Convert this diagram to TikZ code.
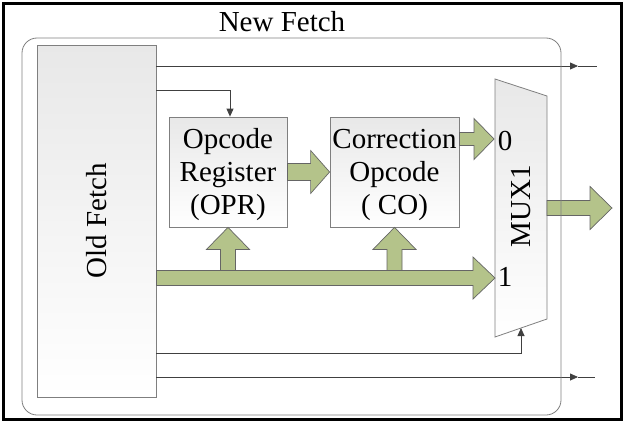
\documentclass[tikz,border=0pt]{standalone}
\usepackage{fontspec}
\setmainfont{Liberation Serif}
\newfontfamily\labelfont{Liberation Serif}
\usetikzlibrary{arrows.meta,calc}

\definecolor{fatgreen}{HTML}{B4C38A}
\definecolor{fatedge}{HTML}{656565}
\definecolor{wire}{HTML}{404040}
\definecolor{boxedge}{HTML}{7F7F7F}

% horizontal block arrow: start, tip, body half-height, head half-height, head length
\newcommand{\fatH}[5]{%
  \draw[fatarrow] let \p1=(#1), \p2=(#2) in
    (\x1,\y2+#3) -- (\x2-#5,\y2+#3) -- (\x2-#5,\y2+#4) -- (\x2,\y2)
    -- (\x2-#5,\y2-#4) -- (\x2-#5,\y2-#3) -- (\x1,\y2-#3) -- cycle;}
% upward block arrow: start, tip, body half-width, head half-width, head length
\newcommand{\fatV}[5]{%
  \draw[fatarrow] let \p1=(#1), \p2=(#2) in
    (\x2-#3,\y1) -- (\x2-#3,\y2-#5) -- (\x2-#4,\y2-#5) -- (\x2,\y2)
    -- (\x2+#4,\y2-#5) -- (\x2+#3,\y2-#5) -- (\x2+#3,\y1) -- cycle;}

\begin{document}
\begin{tikzpicture}[x=1pt,y=-1pt,
  lbl/.style={font=\labelfont\fontsize{29}{33}\selectfont, align=center, inner sep=0pt},
  block/.style={draw=boxedge, line width=0.8pt, top color=black!9, bottom color=white, inner sep=0pt},
  wireline/.style={draw=wire, line width=0.8pt},
  wiretip/.style={-{Triangle[length=8pt,width=7pt]}},
  fatarrow/.style={draw=fatedge, fill=fatgreen, line width=0.7pt, line join=miter},
  frame/.style={draw=boxedge, line width=0.8pt, rounded corners=15pt},
]
\useasboundingbox (0,0) rectangle (626,423);
\draw[black, line width=2.6pt] (3.3,3.3) rectangle (621.5,419.7);

% blocks
\node[block, minimum width=119pt, minimum height=352pt] (old) at (96.5,221) {};
\node[lbl, rotate=90] (oldlbl) at (old.center) {Old Fetch};
\node[block, minimum width=118pt, minimum height=110pt] (opr) at (228,172) {};
\node[lbl] (oprlbl) at ([yshift=-3pt]opr.center) {Opcode\\Register\\(OPR)};
\node[block, minimum width=129pt, minimum height=110pt] (co) at (394.5,172) {};
\node[lbl] (colbl) at ([yshift=-3pt]co.center) {Correction\\Opcode\\( CO)};

% multiplexer
\coordinate (mA) at (495,79);
\coordinate (mB) at (547,96);
\coordinate (mC) at (547,319);
\coordinate (mD) at (495,337);
\path[block] (mA) -- (mB) -- (mC) -- (mD) -- cycle;
\node[lbl, rotate=90] (mux) at (521,206) {MUX1};
\node[lbl] (in0) at (505,141) {0};
\node[lbl] (in1) at (505,277) {1};
\coordinate (sel) at ($(mD)!0.5!(mC)$);
\coordinate (in0tip) at (494,139);
\coordinate (in1tip) at (495,278);
\coordinate (muxout) at (547,208);
\coordinate (outtip) at (612,208);

% thin wires
\coordinate (t1) at (578,66);
\coordinate (e1) at (597,66);
\draw[wireline, wiretip] (old.east |- t1) -- (t1);
\draw[wireline] (t1) -- (e1);
\coordinate (k2) at (230,90);
\draw[wireline, wiretip] (old.east |- k2) -- (k2) -- (k2 |- opr.north);
\coordinate (k3) at (sel |- 0,353);
\draw[wireline, wiretip] (old.east |- k3) -- (k3) -- (sel);
\coordinate (t4) at (578,377);
\coordinate (e4) at (595,377);
\draw[wireline, wiretip] (old.east |- t4) -- (t4);
\draw[wireline] (t4) -- (e4);

% block arrows
\coordinate (busL) at (old.east |- in1tip);
\coordinate (v1) at (opr.south |- in1tip);
\coordinate (v2) at (co.south |- in1tip);
\fatV{v1}{opr.south}{7.5pt}{21.5pt}{22pt}
\fatV{v2}{co.south}{7.5pt}{21.5pt}{22pt}
\fatH{busL}{in1tip}{7.5pt}{21pt}{22pt}
\fatH{opr.east}{co.west}{8.5pt}{21.5pt}{19pt}
\coordinate (cout) at (co.east |- in0tip);
\fatH{cout}{in0tip}{6.5pt}{20.5pt}{20pt}
\fatH{muxout}{outtip}{7.5pt}{21.5pt}{22pt}

% enclosing unit
\node[frame, minimum width=539pt, minimum height=377pt, inner sep=0pt] (newfetch) at (291.5,226.5) {};
\node[lbl] (title) at (282,22) {New Fetch};
\end{tikzpicture}
\end{document}
